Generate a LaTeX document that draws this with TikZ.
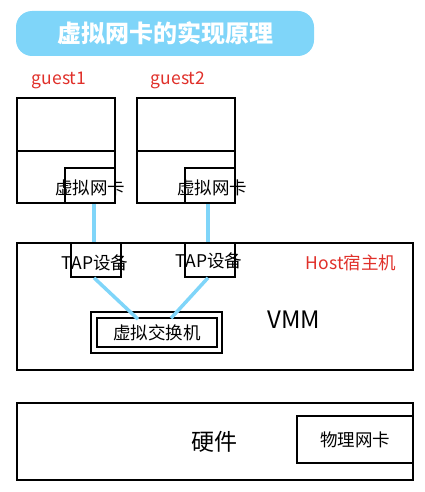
\documentclass[tikz,border=0pt]{standalone}
\usepackage{fontspec}
\setmainfont{Noto Sans CJK SC}
\usetikzlibrary{positioning,calc}
\definecolor{Sky}{HTML}{7FD5F9}
\definecolor{Mark}{HTML}{E0302A}

\begin{document}
\begin{tikzpicture}[x=1pt,y=-1pt,
  box/.style={draw,line width=1.6pt,inner sep=0pt,font=\fontsize{17.5}{17.5}\selectfont},
  link/.style={draw=Sky,line width=3.5pt},
  tag/.style={text=Mark,font=\fontsize{17.5}{17.5}\selectfont,inner sep=0pt},
  lbl/.style={inner sep=0pt,font=\fontsize{17.5}{17.5}\selectfont},
  big/.style={font=\fontsize{24}{24}\selectfont,inner sep=0pt}
]
\useasboundingbox (0,0) rectangle (424,492);
% title
\node[fill=Sky,rounded corners=16pt,minimum width=298pt,minimum height=45pt,
      text=white,font=\fontsize{24}{24}\selectfont\bfseries] (title) at (165,33.5) {虚拟网卡的实现原理};
% guests
\node[tag] (lg1) at (59,80) {guest1};
\node[tag] (lg2) at (178,80) {guest2};
\node[box,minimum width=98pt,minimum height=53pt] (g1top) at (66,124.5) {};
\node[box,minimum width=98pt,minimum height=52pt] (g1bot) at (66,177) {};
\node[box,minimum width=50pt,minimum height=35pt] (nic1) at (90,185.5) {};
\node[box,minimum width=98pt,minimum height=53pt] (g2top) at (186,124.5) {};
\node[box,minimum width=98pt,minimum height=52pt] (g2bot) at (186,177) {};
\node[box,minimum width=50pt,minimum height=35pt] (nic2) at (210,185.5) {};
\node[lbl] (tnic1) at (90,188) {虚拟网卡};
\node[lbl] (tnic2) at (212,188) {虚拟网卡};
% host
\node[box,minimum width=396pt,minimum height=127pt] (host) at (215,306.5) {};
\node[box,minimum width=50pt,minimum height=34pt] (tap1) at (96,260) {};
\node[box,minimum width=50pt,minimum height=34pt] (tap2) at (210,260) {};
\node[lbl] (ttap1) at (95,263) {TAP设备};
\node[lbl] (ttap2) at (209,261) {TAP设备};
\node[tag] (lhost) at (351,263) {Host宿主机};
\node[box,minimum width=131pt,minimum height=41pt] (sw) at (156.5,332.5) {};
\node[box,minimum width=120pt,minimum height=29pt] (swin) at (157,332.5) {虚拟交换机};
\node[big] (vmm) at (294,320) {VMM};
% links
\draw[link] ([xshift=4pt]nic1.south) -- ([xshift=-2pt]tap1.north);
\draw[link] ([xshift=-2pt]nic2.south) -- ([xshift=-2pt]tap2.north);
\draw[link] ([xshift=-2pt]tap1.south) -- ([shift={(-19,2)}]swin.north);
\draw[link] ([xshift=-2pt]tap2.south) -- ([shift={(14,1)}]swin.north);
% hardware
\node[box,minimum width=396pt,minimum height=77pt] (hw) at (215,441.5) {};
\node[box,minimum width=116pt,minimum height=47pt] (pnic) at (355,439.5) {物理网卡};
\node[big,font=\fontsize{23}{23}\selectfont] (thw) at (214,442) {硬件};
\end{tikzpicture}
\end{document}
